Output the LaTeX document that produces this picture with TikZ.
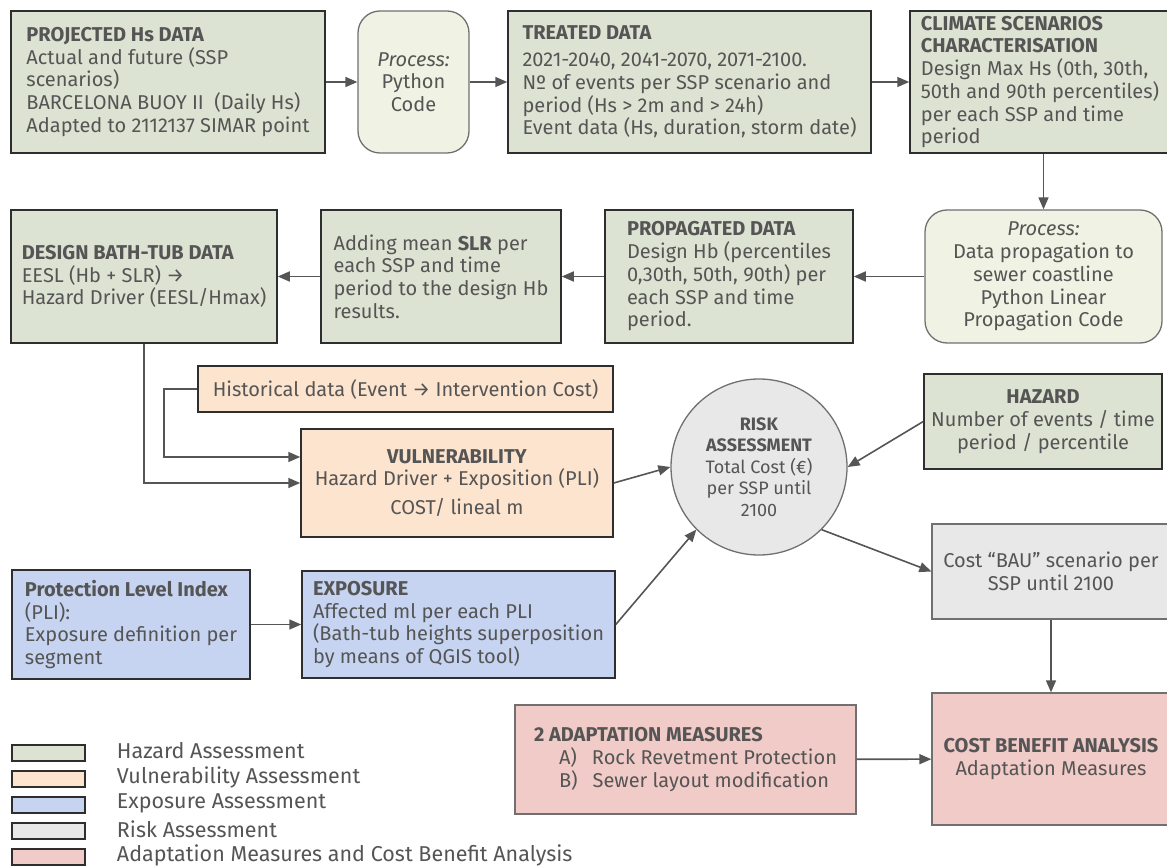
\documentclass[tikz,border=0pt]{standalone}
\usepackage{fontspec}
\setmainfont{Fira Sans}
\usetikzlibrary{arrows.meta,positioning}

\definecolor{txt}{HTML}{555555}
\definecolor{edgedark}{HTML}{2E2E2E}
\definecolor{edgegray}{HTML}{707070}
\definecolor{arrowgray}{HTML}{555555}
\definecolor{hazfill}{HTML}{DDE3D2}
\definecolor{procfill}{HTML}{F0F3E3}
\definecolor{vulfill}{HTML}{FDE4CE}
\definecolor{expfill}{HTML}{C6D4F1}
\definecolor{riskfill}{HTML}{E8E8E8}
\definecolor{adafill}{HTML}{F1CBC7}

\tikzstyle{arrow} = [line width=1.6pt, draw=arrowgray, -{Triangle[length=12pt,width=10pt]}]
\tikzstyle{hazbox} = [draw=edgedark, line width=1.5pt, fill=hazfill, text=txt, inner xsep=6pt, align=left]
\tikzstyle{procbox} = [draw=edgegray, line width=1.3pt, fill=procfill, text=txt, rounded corners=22pt, align=center]
\tikzstyle{vulbox} = [draw=edgedark, line width=1.5pt, fill=vulfill, text=txt, align=center]
\tikzstyle{expbox} = [draw=edgedark, line width=1.5pt, fill=expfill, text=txt, inner xsep=6pt, align=left]
\tikzstyle{riskbox} = [draw=edgegray, line width=1.3pt, fill=riskfill, text=txt, align=center]
\tikzstyle{adabox} = [draw=edgegray, line width=1.3pt, fill=adafill, text=txt, inner xsep=3pt]
\tikzstyle{legswatch} = [draw=edgedark, line width=1.5pt, minimum width=73pt, minimum height=16pt, inner sep=0pt]
\tikzstyle{legtext} = [text=txt, font=\fontsize{21.5}{26}\selectfont, inner sep=0pt, anchor=west, yshift=2pt]

\begin{document}
\begin{tikzpicture}[x=1pt, y=-1pt, every node/.style={font=\fontsize{20}{22.75}\selectfont}]
  \useasboundingbox (0,0) rectangle (1167,866);

  % Hazard chain, first row
  \node[hazbox, minimum width=314pt, minimum height=142pt] (proj) at (168,82)
    {\textbf{PROJECTED Hs DATA}\\Actual and future (SSP\\scenarios)\\BARCELONA BUOY II\ \ (Daily Hs)\\Adapted to 2112137 SIMAR point};
  \node[procbox, minimum width=111pt, minimum height=142pt] (proc1) at (413.5,82)
    {\textit{Process:}\\Python\\Code};
  \node[hazbox, minimum width=363pt, minimum height=142pt] (treat) at (689.5,82)
    {\textbf{TREATED DATA}\\[4pt]2021-2040, 2041-2070, 2071-2100.\\Nº of events per SSP scenario and\\period (Hs > 2m and > 24h)\\Event data (Hs, duration, storm date)};
  \node[hazbox, minimum width=260pt, minimum height=142pt, inner xsep=4pt] (clim) at (1040,82)
    {\textbf{CLIMATE SCENARIOS}\\\textbf{CHARACTERISATION}\\Design Max Hs (0th, 30th,\\50th and 90th percentiles)\\per each SSP and time\\period};

  % Hazard chain, second row
  \node[procbox, minimum width=237pt, minimum height=133pt] (proc2) at (1043.5,276.5)
    {\textit{Process:}\\Data propagation to\\sewer coastline\\Python Linear\\Propagation Code};
  \node[hazbox, minimum width=248pt, minimum height=133pt] (prop) at (729,276.5)
    {\textbf{PROPAGATED DATA}\\Design Hb (percentiles\\0,30th, 50th, 90th) per\\each SSP and time\\period.};
  \node[hazbox, minimum width=240pt, minimum height=133pt] (slr) at (441,276.5)
    {Adding mean \textbf{SLR} per\\each SSP and time\\period to the design Hb\\results.};
  \node[hazbox, minimum width=266pt, minimum height=133pt] (design) at (144,276.5)
    {\textbf{DESIGN BATH-TUB DATA}\\EESL (Hb + SLR) →\\Hazard Driver (EESL/Hmax)};

  % Vulnerability, hazard and risk
  \node[vulbox, minimum width=415pt, minimum height=46pt] (hist) at (405.5,389)
    {Historical data (Event → Intervention Cost)};
  \node[vulbox, minimum width=312pt, minimum height=108pt] (vul) at (457,483)
    {\textbf{VULNERABILITY}\\Hazard Driver + Exposition (PLI)\\[6pt]COST/ lineal m};
  \node[riskbox, circle, minimum size=176pt, inner sep=0pt, font=\fontsize{18}{21.5}\selectfont] (risk) at (759,467)
    {\textbf{RISK}\\\textbf{ASSESSMENT}\\Total Cost (€)\\per SSP until\\2100};
  \node[hazbox, align=center, minimum width=238pt, minimum height=95pt] (haz) at (1043,421.5)
    {\textbf{HAZARD}\\Number of events / time\\period / percentile};
  \node[riskbox, minimum width=238pt, minimum height=95pt] (bau) at (1051,571.5)
    {Cost “BAU” scenario per\\SSP until 2100};

  % Exposure
  \node[expbox, minimum width=238pt, minimum height=109pt] (pli) at (131,624.5)
    {\textbf{Protection Level Index}\\(PLI):\\Exposure definition per\\segment};
  \node[expbox, minimum width=313pt, minimum height=107pt] (expo) at (458.5,624.5)
    {\textbf{EXPOSURE}\\Affected ml per each PLI\\(Bath-tub heights superposition\\by means of QGIS tool)};

  % Adaptation and cost benefit
  \node[adabox, align=left, minimum width=341pt, minimum height=109pt] (adapt) at (685.5,759.5)
    {\textbf{2 ADAPTATION MEASURES}\\\hspace*{25pt}A)\hspace{15pt}Rock Revetment Protection\\\hspace*{25pt}B)\hspace{15pt}Sewer layout modification};
  \node[adabox, align=center, minimum width=238pt, minimum height=132pt] (cba) at (1051,759)
    {\textbf{COST BENEFIT ANALYSIS}\\Adaptation Measures};

  % Edges
  \draw[arrow] (proj) -- (proc1);
  \draw[arrow] (proc1) -- (treat);
  \draw[arrow] (treat) -- (clim);
  \draw[arrow] (clim.south -| proc2.north) -- (proc2.north);
  \draw[arrow] (proc2) -- (prop);
  \draw[arrow] (prop) -- (slr);
  \draw[arrow] (slr) -- (design);
  \draw[arrow] (design.south) |- (vul.west);
  \draw[arrow] (hist.west) -- ++(-33,0) |- ([yshift=26pt]vul.west);
  \draw[arrow] (vul.east) -- (risk.west);
  \draw[arrow] (haz.west) -- (risk.east);
  \draw[arrow] (expo.east) -- (risk.south west);
  \draw[arrow] (risk.south east) -- (bau.west);
  \draw[arrow] (bau) -- (cba);
  \draw[arrow] (pli) -- (expo);
  \draw[arrow] (adapt) -- (cba);

  % Legend
  \node[legswatch, fill=hazfill] (leg1) at (48.5,753) {};
  \node[legswatch, fill=vulfill] (leg2) at (48.5,779) {};
  \node[legswatch, fill=expfill] (leg3) at (48.5,805) {};
  \node[legswatch, fill=riskfill] (leg4) at (48.5,831) {};
  \node[legswatch, fill=adafill] (leg5) at (48.5,857) {};
  \node[legtext, right=31pt of leg1] (legt1) {Hazard Assessment};
  \node[legtext, right=31pt of leg2] (legt2) {Vulnerability Assessment};
  \node[legtext, right=31pt of leg3] (legt3) {Exposure Assessment};
  \node[legtext, right=31pt of leg4] (legt4) {Risk Assessment};
  \node[legtext, right=31pt of leg5] (legt5) {Adaptation Measures and Cost Benefit Analysis};
\end{tikzpicture}
\end{document}
